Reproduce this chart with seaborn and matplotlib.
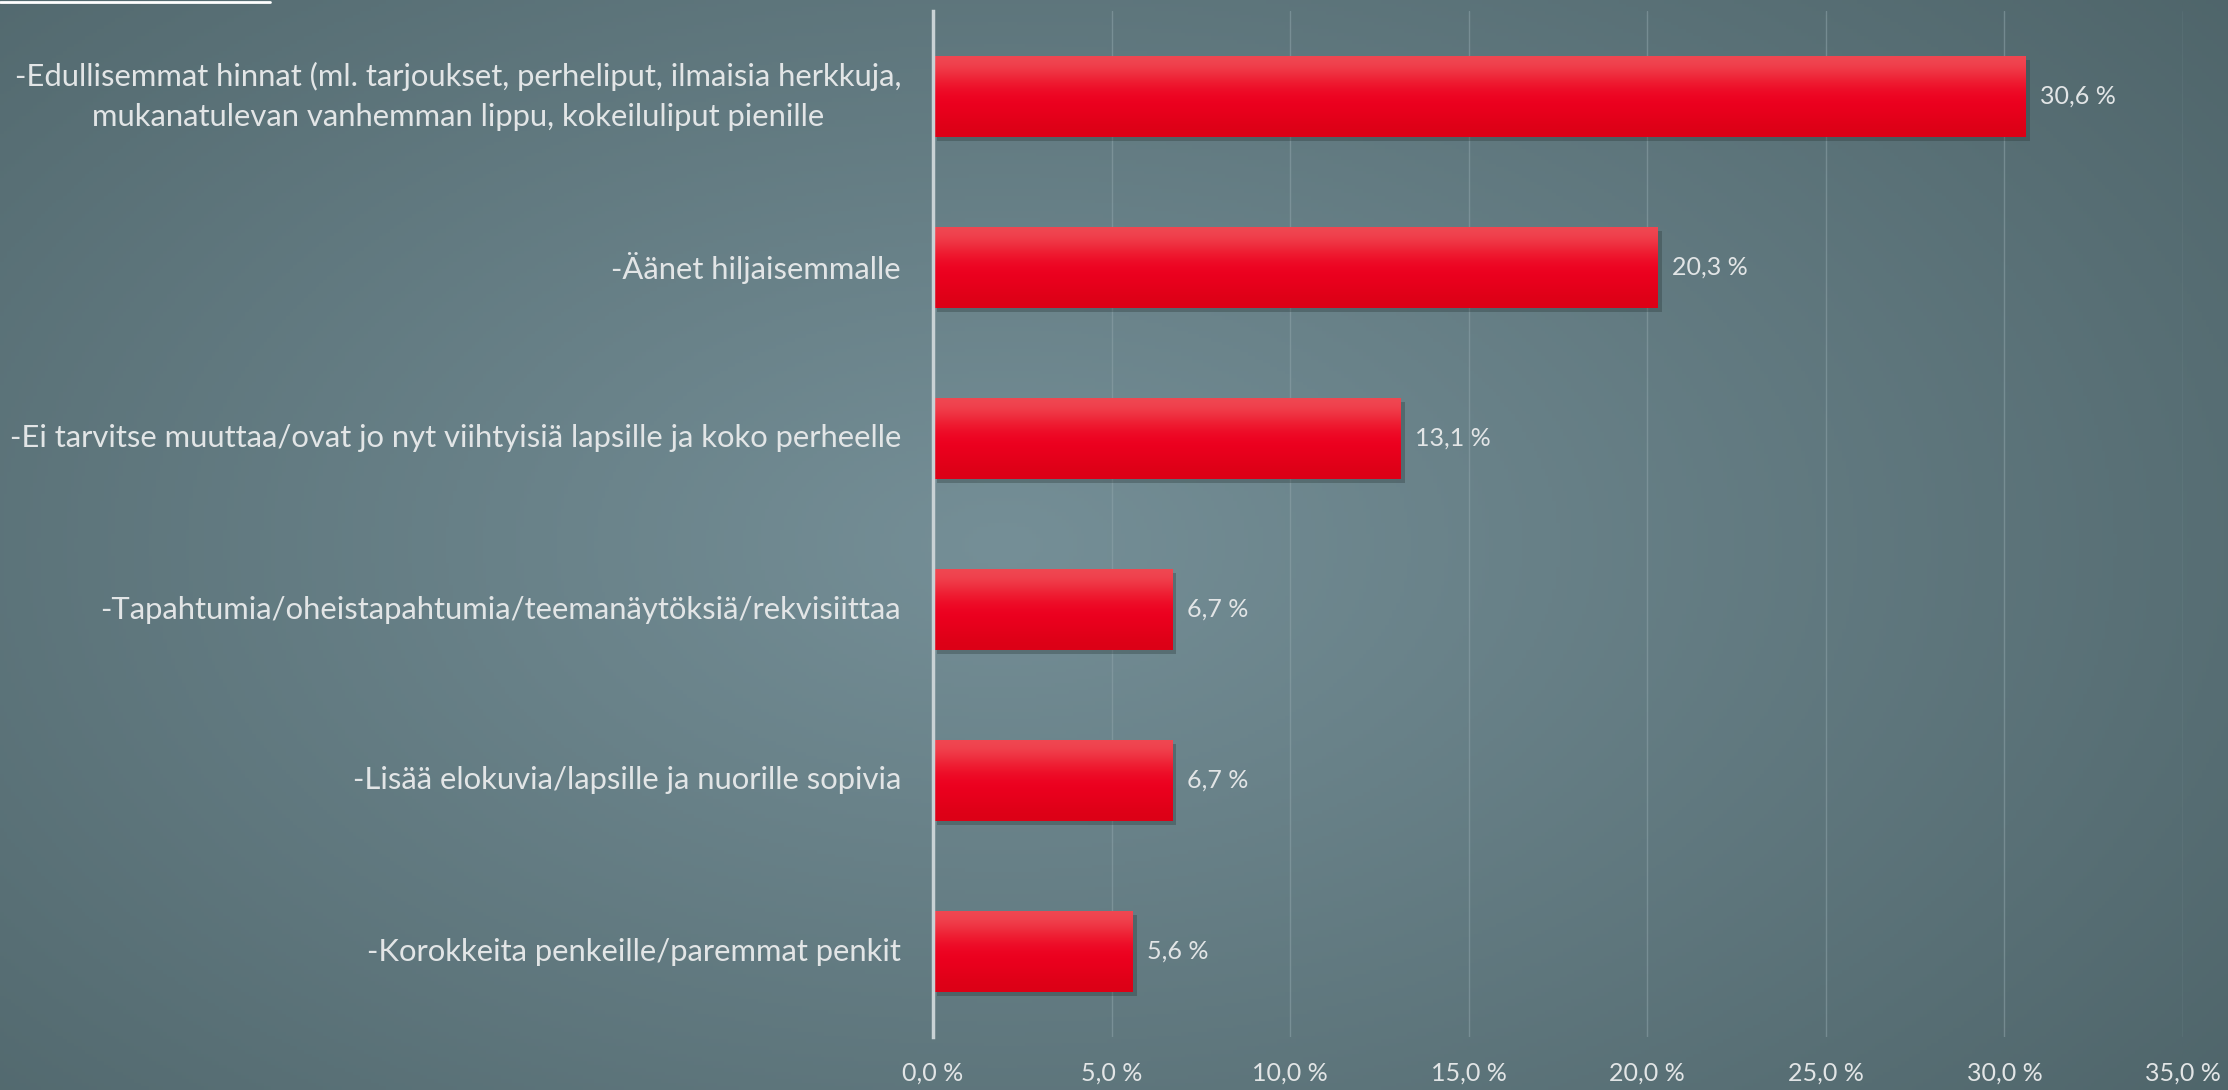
import matplotlib
matplotlib.use('Agg')
import matplotlib.pyplot as plt
import matplotlib.patheffects as pe
import numpy as np
import pandas as pd
import seaborn as sns

categories = [
    '-Edullisemmat hinnat (ml. tarjoukset, perheliput, ilmaisia herkkuja,\nmukanatulevan vanhemman lippu, kokeiluliput pienille',
    '-Äänet hiljaisemmalle',
    '-Ei tarvitse muuttaa/ovat jo nyt viihtyisiä lapsille ja koko perheelle',
    '-Tapahtumia/oheistapahtumia/teemanäytöksiä/rekvisiittaa',
    '-Lisää elokuvia/lapsille ja nuorille sopivia',
    '-Korokkeita penkeille/paremmat penkit',
]
values = [30.6, 20.3, 13.1, 6.7, 6.7, 5.6]
xticks = [0, 5, 10, 15, 20, 25, 30, 35]
xtick_labels = ['0,0 %', '5,0 %', '10,0 %', '15,0 %', '20,0 %', '25,0 %', '30,0 %', '35,0 %']
value_labels = ['30,6 %', '20,3 %', '13,1 %', '6,7 %', '6,7 %', '5,6 %']

sns.set_theme(style='white')
plt.rcParams['font.family'] = ['Lato', 'DejaVu Sans']
txt = '#e2e5e6'

W, H = 2228, 1090
fig = plt.figure(figsize=(W / 100, H / 100), dpi=100)

# radial background gradient
bg = fig.add_axes([0, 0, 1, 1], zorder=-5)
yy, xx = np.mgrid[0:1:300j, 0:1:600j]
r = np.sqrt(((xx - 0.45) / 0.75) ** 2 + ((yy - 0.5) / 0.9) ** 2)
r = np.clip(r, 0, 1)[..., None]
inner = np.array([0x75, 0x8f, 0x97]) / 255
outer = np.array([0x4c, 0x62, 0x67]) / 255
rgb = inner * (1 - r) + outer * r
bg.imshow(rgb, extent=[0, 1, 0, 1], aspect='auto', origin='lower')
bg.plot([0, 0.121], [0.9985, 0.9985], color='white', lw=2)
bg.set_xlim(0, 1)
bg.set_ylim(0, 1)
bg.axis('off')

ax = fig.add_axes([933 / W, 1 - 1037 / H, (2183 - 933) / W, (1037 - 11) / H])
ax.patch.set_alpha(0)
df = pd.DataFrame({'cat': categories, 'val': values})
sns.barplot(data=df, x='val', y='cat', orient='h', color='#ee0020',
            width=0.47, saturation=1, linewidth=0, edgecolor='none', ax=ax, zorder=3)

# vertical gradient on each bar
grad = np.array([[240, 72, 82], [238, 30, 50], [238, 0, 32], [232, 0, 28], [220, 0, 22]]) / 255
grad = grad[:, None, :]
for p in list(ax.patches):
    p.set_path_effects([pe.SimplePatchShadow(offset=(3, -3), shadow_rgbFace='#22302f', alpha=0.3),
                        pe.Normal()])
    x0, y0, w, h = p.get_x(), p.get_y(), p.get_width(), p.get_height()
    im = ax.imshow(grad, extent=[x0, x0 + w, y0 + h, y0], origin='upper',
                   aspect='auto', interpolation='bicubic', zorder=4)
    im.set_clip_path(p)

ax.set_xlim(0, 35)
ax.set_ylim(5.5, -0.5)
ax.set_xticks(xticks)
ax.set_xticklabels(xtick_labels, color=txt, fontsize=18)
ax.set_yticks(range(len(categories)))
ax.set_yticklabels(categories, color=txt, fontsize=22.3, multialignment='center',
                   linespacing=1.5, va='center')
ax.tick_params(axis='x', length=0, pad=18)
ax.tick_params(axis='y', length=0, pad=23)
ax.set_xlabel('')
ax.set_ylabel('')
ax.grid(axis='x', color='#8ea3a9', lw=1, alpha=0.55, zorder=0)
for s in ['top', 'right', 'bottom']:
    ax.spines[s].set_visible(False)
ax.spines['left'].set_color('#c9d2d5')
ax.spines['left'].set_linewidth(2.5)
ax.spines['left'].set_zorder(6)

for i, v in enumerate(values):
    ax.text(v + 0.4, i, value_labels[i], color=txt, fontsize=18, va='center', ha='left', zorder=7)

fig.savefig('out.png', dpi=100)
